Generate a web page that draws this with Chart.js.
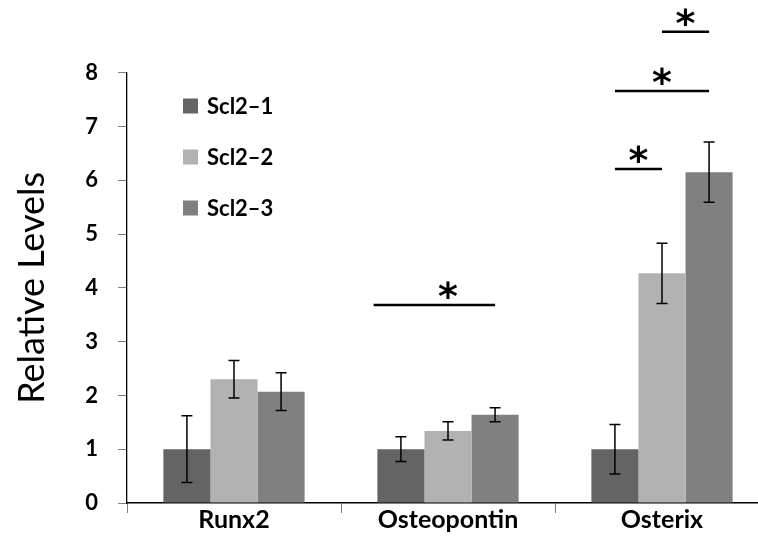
<!DOCTYPE html>
<html>
<head>
<meta charset="utf-8">
<script src="https://cdn.jsdelivr.net/npm/chart.js@4.4.1/dist/chart.umd.min.js"></script>
<style>
  html, body { margin: 0; padding: 0; background: #fff; overflow: hidden; }
  #wrap { width: 776px; height: 555px; }
</style>
</head>
<body>
<div id="wrap"><canvas id="c" width="776" height="555"></canvas></div>
<script>
// data
const categories = ['Runx2', 'Osteopontin', 'Osterix'];
const seriesNames = ['Scl2\u20131', 'Scl2\u20132', 'Scl2\u20133'];
const scl21 = [1.00, 1.00, 1.00];
const scl22 = [2.30, 1.34, 4.27];
const scl23 = [2.07, 1.64, 6.15];
const err21 = [0.62, 0.23, 0.46];
const err22 = [0.35, 0.17, 0.56];
const err23 = [0.35, 0.13, 0.56];
const yTicks = [0, 1, 2, 3, 4, 5, 6, 7, 8];

// significance bars: category, from bar, to bar, level
const sigCategory = [1, 2, 2, 2];
const sigFrom = [-0.58, 0, 0, 1];
const sigTo = [2, 1, 2, 2];
const sigLevel = [3.68, 6.21, 7.66, 8.76];

const colors = ['#646464', '#b2b2b2', '#808080'];
const errors = [err21, err22, err23];

// error bars drawn from bar elements
const errorBarPlugin = {
  id: 'errorBars',
  afterDatasetsDraw(chart) {
    const ctx = chart.ctx;
    const y = chart.scales.y;
    ctx.save();
    ctx.strokeStyle = '#000';
    ctx.lineWidth = 1.5;
    chart.data.datasets.forEach((ds, i) => {
      const meta = chart.getDatasetMeta(i);
      meta.data.forEach((bar, j) => {
        const v = ds.data[j], e = errors[i][j];
        const top = y.getPixelForValue(v + e);
        const bot = y.getPixelForValue(v - e);
        ctx.beginPath();
        ctx.moveTo(bar.x, top); ctx.lineTo(bar.x, bot);
        ctx.moveTo(bar.x - 5.5, top); ctx.lineTo(bar.x + 5.5, top);
        ctx.moveTo(bar.x - 5.5, bot); ctx.lineTo(bar.x + 5.5, bot);
        ctx.stroke();
      });
    });
    ctx.restore();
  }
};

// significance lines with asterisks
const sigPlugin = {
  id: 'sig',
  afterDraw(chart) {
    const ctx = chart.ctx;
    const y = chart.scales.y;
    const barX = (cat, s) => {
      const lo = Math.max(0, Math.min(1, Math.floor(s)));
      const a = chart.getDatasetMeta(lo).data[cat].x;
      const b = chart.getDatasetMeta(lo + 1).data[cat].x;
      return a + (s - lo) * (b - a);
    };
    ctx.save();
    ctx.strokeStyle = '#000';
    ctx.fillStyle = '#000';
    ctx.lineWidth = 2.5;
    ctx.font = 'bold 38px "DejaVu Sans"';
    ctx.textAlign = 'center';
    ctx.textBaseline = 'alphabetic';
    sigCategory.forEach((cat, k) => {
      const x1 = barX(cat, sigFrom[k]);
      const x2 = barX(cat, sigTo[k]);
      const ly = y.getPixelForValue(sigLevel[k]);
      ctx.beginPath();
      ctx.moveTo(x1, ly); ctx.lineTo(x2, ly);
      ctx.stroke();
      const sx = (barX(cat, Math.max(0, sigFrom[k])) + x2) / 2;
      ctx.fillText('*', sx, ly + 4);
    });
    ctx.restore();
  }
};

// legend inside the plot, stacked
const legendPlugin = {
  id: 'innerLegend',
  afterDraw(chart) {
    const ctx = chart.ctx;
    ctx.save();
    ctx.font = 'bold 22px Lato';
    ctx.textBaseline = 'middle';
    chart.data.datasets.forEach((ds, i) => {
      const cy = 106 + i * 51;
      ctx.fillStyle = ds.backgroundColor;
      ctx.fillRect(183, cy - 7.5, 15, 15);
      ctx.fillStyle = '#000';
      ctx.fillText(ds.label, 207, cy + 1);
    });
    ctx.restore();
  }
};

new Chart(document.getElementById('c'), {
  type: 'bar',
  data: {
    labels: categories,
    datasets: [
      { label: seriesNames[0], data: scl21, backgroundColor: colors[0] },
      { label: seriesNames[1], data: scl22, backgroundColor: colors[1] },
      { label: seriesNames[2], data: scl23, backgroundColor: colors[2] }
    ]
  },
  options: {
    responsive: false,
    animation: false,
    layout: { padding: { top: 72.7, right: 7, left: 0, bottom: 2 } },
    datasets: { bar: { categoryPercentage: 0.66, barPercentage: 1.0 } },
    plugins: { legend: { display: false }, tooltip: { enabled: false } },
    scales: {
      x: {
        afterFit(scale) { scale.height = 50; },
        grid: { drawOnChartArea: false, drawTicks: true, tickLength: 10, color: '#7f7f7f', offset: true },
        border: { color: '#000', width: 1.5 },
        ticks: { color: '#000', font: { family: 'Lato', weight: 'bold', size: 25 }, padding: -8 }
      },
      y: {
        min: 0, max: 8,
        afterBuildTicks(scale) { scale.ticks = yTicks.map(v => ({ value: v })); },
        afterFit(scale) { scale.width = 127; },
        grid: { drawOnChartArea: false, drawTicks: true, tickLength: 9, color: '#7f7f7f' },
        border: { color: '#000', width: 1.3 },
        ticks: { color: '#000', font: { family: 'Lato', weight: 'bold', size: 22 }, padding: 20 },
        title: {
          display: true, text: 'Relative Levels', color: '#000',
          font: { family: 'Lato', size: 36 }, padding: { top: 11, bottom: 0 }
        }
      }
    }
  },
  plugins: [errorBarPlugin, sigPlugin, legendPlugin]
});
</script>
</body>
</html>
